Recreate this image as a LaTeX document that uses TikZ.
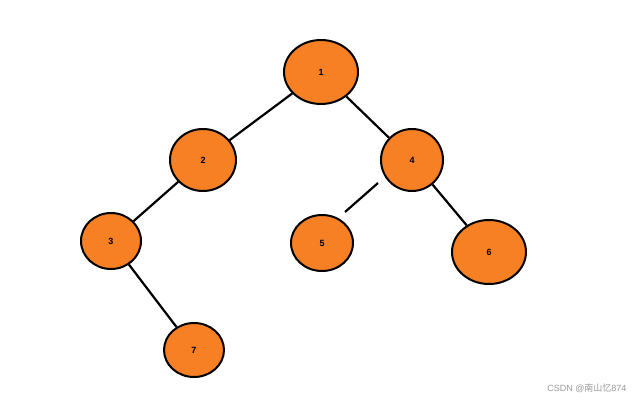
\documentclass[tikz,border=0pt]{standalone}
\usepackage{fontspec}
\setmainfont{Liberation Sans}
\newfontfamily\cjk{Noto Sans CJK SC}
\usetikzlibrary{shapes.geometric}
\definecolor{nodeor}{RGB}{247,128,36}
\begin{document}
\begin{tikzpicture}[x=1pt,y=-1pt,
  nd/.style={ellipse,draw=black,line width=2pt,fill=nodeor,inner sep=0pt,font=\bfseries\small},
  ed/.style={line width=2.2pt,black}]
\useasboundingbox (0,0) rectangle (642,409);
\node[nd,minimum width=74pt,minimum height=64pt] (n1) at (321,72) {1};
\node[nd,minimum width=66pt,minimum height=62pt] (n2) at (203,160) {2};
\node[nd,minimum width=62pt,minimum height=62pt] (n4) at (412,160) {4};
\node[nd,minimum width=60pt,minimum height=56pt] (n3) at (111,241) {3};
\node[nd,minimum width=62pt,minimum height=56pt] (n5) at (322,243) {5};
\node[nd,minimum width=74pt,minimum height=64pt] (n6) at (489,252) {6};
\node[nd,minimum width=60pt,minimum height=54pt] (n7) at (194,350) {7};
\coordinate (a) at (378,183);
\coordinate (b) at (345,212);
\draw[ed] (n1) -- (n2);
\draw[ed] (n1) -- (n4);
\draw[ed] (n2) -- (n3);
\draw[ed] (n3) -- (n7);
\draw[ed] (n4) -- (n6);
\draw[ed] (a) -- (b);
\node[text=gray!80,font=\small,anchor=east] (wm) at (630,388) {CSDN @{\cjk 南山忆}874};
\end{tikzpicture}
\end{document}
